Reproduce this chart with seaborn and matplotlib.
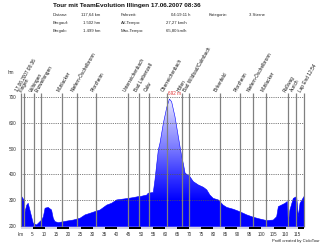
import numpy as np
import matplotlib
matplotlib.use("Agg")
import matplotlib.pyplot as plt
from matplotlib.colors import LinearSegmentedColormap
from matplotlib.patches import PathPatch
import seaborn as sns
import pandas as pd

# ---------------- data ----------------
title = "Tour mit TeamEvolution Illingen 17.06.2007 08:36"
info_labels_1 = ["Distanz:", "Bergauf:", "Bergab:"]
info_values_1 = ["117,64 km", "1.502 hm", "1.499 hm"]
info_labels_2 = ["Fahrzeit:", "AV-Tempo:", "Max-Tempo:"]
info_values_2 = ["04:19:11 h", "27,27 km/h", "65,80 km/h"]
info_labels_3 = ["Kategorie:"]
info_values_3 = ["3 Sterne"]

km = [0, 0.5, 1.45, 1.9, 2.6, 3.2, 3.9, 4.6, 5.3, 6.7, 8.1, 8.8, 9.5, 10.2,
      11.5, 12.9, 13.6, 14.3, 15.7, 19.2, 21.9, 24.7, 26.8, 28.8, 31.6, 33,
      35.8, 37.8, 39.9, 44.7, 46.8, 48.9, 49.6, 52.4, 53, 55.1, 55.8, 57.2,
      57.9, 59.3, 60.7, 61.8, 62.7, 64.1, 65.5, 66.9, 67.6, 68.3, 70.3, 71.7,
      73.8, 75.9, 77.3, 78.6, 80, 82.1, 84.1, 85.6, 88.3, 91.1, 93.9, 96.6,
      99.4, 102.2, 104.9, 106.3, 107, 109.8, 110.7, 111.1, 111.8, 113.2,
      114.6, 115.3, 116, 117.64]
elev = [327, 314, 301, 255, 281, 288, 262, 236, 210, 204, 217, 223, 236, 269,
        272, 262, 230, 217, 213, 219, 223, 230, 243, 249, 258, 262,
        281, 288, 301, 307, 310, 314, 314, 320, 327, 330, 378, 495,
        522, 599, 660, 692, 682, 624, 546, 469, 440, 405, 391, 372,
        359, 350, 340, 320, 307, 301, 281, 272, 265, 255, 243, 234,
        227, 221, 223, 236, 275, 288, 295, 210, 262, 307,
        314, 236, 288, 314]

waypoint_km = [0.1, 1.6, 5.7, 8.4, 17.1, 23.3, 31.3, 44.5, 49.2, 53.3, 60.7,
               67.2, 69.9, 82.6, 90.9, 96.3, 101.9, 111.1, 114.3, 117.6]
waypoint_names = ["17.06.2007 08:36", "Illingen", "Vaihingen", "Enzweihingen",
                  "Mühlacker", "Niefern-Öschelbronn", "Pforzheim",
                  "Unterreichenbach", "Bad Liebenzell", "Calw",
                  "Oberreichenbach", "Höfen", "Bad Wildbad/Calmbach",
                  "Birkenfeld", "Pforzheim", "Niefern-Öschelbronn",
                  "Mühlacker", "Roßwag", "Aurich", "Lap End 12:54"]

y_ticks = [200, 300, 400, 500, 600, 700]
x_ticks = list(range(0, 116, 5))
x_ticklabels = ["km"] + [str(v) for v in x_ticks[1:]]
peak_label = "692 m"
credit = "Profil created by CicloTour"

# ---------------- figure ----------------
sns.set_style("white")
plt.rcParams['font.family'] = ['Liberation Sans', 'DejaVu Sans']

W, H = 324, 243
fig = plt.figure(figsize=(W / 100, H / 100), dpi=100)
fig.patch.set_facecolor("white")

# axes geometry in pixels
x0_px, x1_px = 20.5, 304.0
ymin, ymax = 190, 700
y700_px = 97.0
px_per_m = (226 - 97) / 500.0
ybot_px = y700_px + (ymax - ymin) * px_per_m
ax = fig.add_axes([x0_px / W, (H - ybot_px) / H, (x1_px - x0_px) / W,
                   (ybot_px - y700_px) / H])
xmax = km[-1]
ax.set_xlim(0, xmax)
ax.set_ylim(ymin, ymax)
for s in ax.spines.values():
    s.set_visible(False)

df = pd.DataFrame({"km": km, "elev": elev})

# gradient fill
cmap = LinearSegmentedColormap.from_list(
    "prof", [(0.0, "#0000ff"), (0.22, "#0000ff"), (0.42, "#3a3aff"),
             (0.62, "#7c7cff"), (0.82, "#b4b4ff"), (1.0, "#ececff")])
poly = ax.fill_between(df["km"], 197, df["elev"], color="none", lw=0)
path = poly.get_paths()[0]
patch = PathPatch(path, transform=ax.transData, facecolor="none",
                  edgecolor="none")
ax.add_patch(patch)
grad = np.linspace(0, 1, 256).reshape(-1, 1)
im = ax.imshow(grad, extent=[0, xmax, ymin, ymax], origin="lower",
               aspect="auto", cmap=cmap, zorder=1, interpolation="bilinear")
im.set_clip_path(patch)
sns.lineplot(data=df, x="km", y="elev", ax=ax, color="#0000ff", lw=0.4,
             zorder=2, legend=False)

# horizontal dotted grid
for yv in y_ticks[1:]:
    ax.axhline(yv, color="#555555", lw=0.6, ls=(0, (1, 1.2)), zorder=3)

# vertical waypoint lines
ytop = 714
ax.vlines(waypoint_km, 197, ytop, color="#808080", lw=0.9, zorder=4,
          clip_on=False)
for k, name in zip(waypoint_km, waypoint_names):
    ax.text(k - 0.7, ytop + 2, name, rotation=60, rotation_mode="anchor",
            ha="left", va="bottom", fontsize=3.4, color="#111111",
            clip_on=False)

# bottom alternating scale bar
for i, start in enumerate(range(0, 120, 5)):
    end = min(start + 5, xmax)
    c = "#d4d4e4" if i % 2 == 0 else "#000000"
    ax.fill_between([start, end], 190, 197, color=c, lw=0, zorder=5)

# ticks
ax.set_xticks(x_ticks)
ax.set_xticklabels(x_ticklabels)
ax.set_yticks(y_ticks)
ax.set_yticklabels([str(v) for v in y_ticks])
ax.tick_params(axis="x", length=0, labelsize=3.3, colors="#333333", pad=2.6)
ax.tick_params(axis="y", length=0, labelsize=3.4, colors="#333333", pad=3)
ax.set_xlabel("")
ax.set_ylabel("")
fig.text(8 / W, 1 - 72 / H, "hm", fontsize=3.3, color="#333333",
         va="center", ha="left")

# peak label
ax.text(61.2, 703, peak_label, fontsize=3.3, color="#e03030", ha="left",
        va="bottom", clip_on=False, zorder=6)

# title & info
fig.text(53 / W, 1 - 5.8 / H, title, fontsize=4.6, fontweight="bold",
         va="center", ha="left", color="#111111")
rows_y = [15, 23, 31]
for i, yy in enumerate(rows_y):
    fy = 1 - yy / H
    fig.text(53 / W, fy, info_labels_1[i], fontsize=3.1, va="center")
    fig.text(100 / W, fy, info_values_1[i], fontsize=3.1, va="center",
             ha="right")
    fig.text(120.7 / W, fy, info_labels_2[i], fontsize=3.1, va="center")
    vx = 170.7 if i == 0 else 165.7
    fig.text(vx / W, fy, info_values_2[i], fontsize=3.1, va="center")
    if i < len(info_labels_3):
        fig.text(208.3 / W, fy, info_labels_3[i], fontsize=3.1, va="center")
        fig.text(249 / W, fy, info_values_3[i], fontsize=3.1, va="center")

fig.text(320 / W, 1 - 241 / H, credit, fontsize=3.0, ha="right",
         va="center", color="#222222")

fig.savefig("out.png", dpi=100)
